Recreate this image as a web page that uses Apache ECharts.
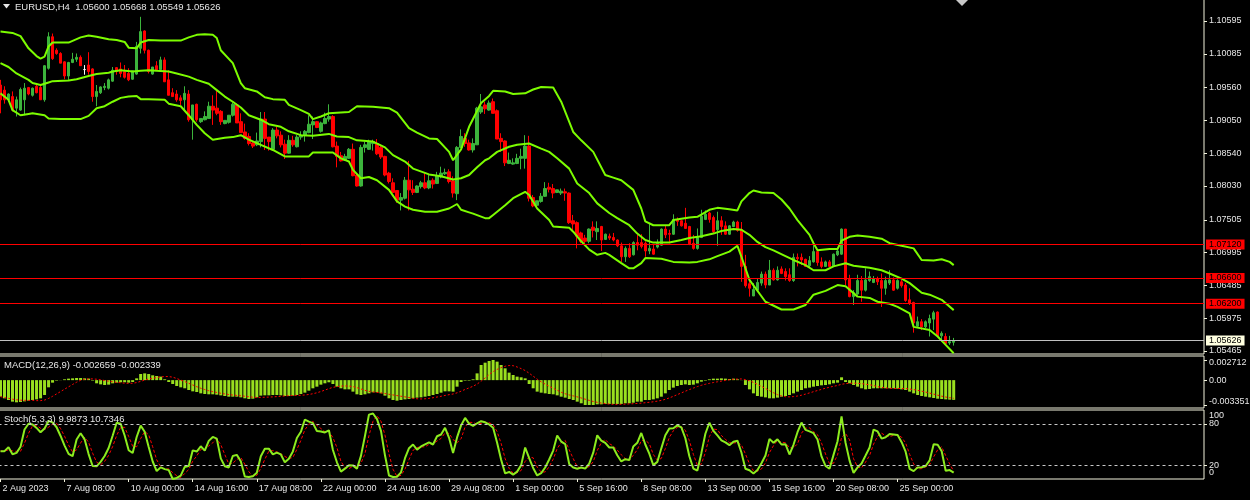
<!DOCTYPE html>
<html><head><meta charset="utf-8">
<script src="https://cdn.jsdelivr.net/npm/echarts@6/dist/echarts.min.js"></script>
<style>html,body{margin:0;padding:0;background:#000;overflow:hidden}#c{width:1250px;height:500px}</style>
</head><body><div id="c"></div>
<script>
const opens=[1.0960,1.0952,1.0937,1.0942,1.0924,1.0921,1.0937,1.0956,1.0944,1.0958,
1.0956,1.0937,1.0986,1.1035,1.1014,1.1009,1.0996,1.0974,1.0995,1.1000,
1.1003,1.0984,1.0991,1.0985,1.0942,1.0948,1.0956,1.0955,1.0966,1.0987,
1.0985,1.0981,1.0978,1.0969,1.0977,1.1017,1.1044,1.1014,1.0977,1.0990,
1.0984,1.0999,1.0968,1.0948,1.0946,1.0940,1.0937,1.0946,1.0906,1.0930,
1.0903,1.0906,1.0908,1.0927,1.0924,1.0919,1.0900,1.0902,1.0913,1.0929,
1.0903,1.0887,1.0880,1.0870,1.0867,1.0872,1.0907,1.0879,1.0860,1.0890,
1.0882,1.0868,1.0854,1.0874,1.0864,1.0879,1.0882,1.0886,1.0898,1.0903,
1.0888,1.0900,1.0907,1.0911,1.0865,1.0850,1.0843,1.0846,1.0860,1.0820,
1.0803,1.0863,1.0860,1.0869,1.0869,1.0863,1.0849,1.0823,1.0808,1.0796,
1.0781,1.0784,1.0812,1.0798,1.0793,1.0802,1.0808,1.0800,1.0812,1.0807,
1.0817,1.0822,1.0825,1.0811,1.0791,1.0863,1.0877,1.0870,1.0859,1.0867,
1.0918,1.0929,1.0921,1.0934,1.0920,1.0877,1.0873,1.0838,1.0837,1.0838,
1.0846,1.0846,1.0865,1.0785,1.0773,1.0779,1.0787,1.0801,1.0799,1.0793,
1.0792,1.0794,1.0792,1.0749,1.0746,1.0730,1.0722,1.0717,1.0739,1.0732,
1.0740,1.0720,1.0725,1.0723,1.0719,1.0710,1.0693,1.0706,1.0696,1.0715,
1.0715,1.0714,1.0702,1.0705,1.0708,1.0711,1.0736,1.0729,1.0728,1.0751,
1.0749,1.0745,1.0740,1.0714,1.0706,1.0723,1.0751,1.0761,1.0754,1.0735,
1.0749,1.0741,1.0728,1.0740,1.0747,1.0735,1.0678,1.0651,1.0632,1.0641,
1.0652,1.0666,1.0649,1.0672,1.0657,1.0674,1.0670,1.0665,1.0656,1.0692,
1.0692,1.0689,1.0679,1.0685,1.0701,1.0685,1.0678,1.0685,1.0678,1.0696,
1.0697,1.0736,1.0658,1.0631,1.0635,1.0656,1.0641,1.0656,1.0653,1.0659,
1.0656,1.0644,1.0652,1.0657,1.0644,1.0654,1.0649,1.0626,1.0622,1.0585,
1.0592,1.0584,1.0590,1.0596,1.0607,1.0570,1.0569,1.0559,1.05600];
const highs=[1.0968,1.0958,1.0947,1.0950,1.0942,1.0956,1.0963,1.0957,1.0956,1.0962,
1.0960,1.0991,1.1042,1.1040,1.1017,1.1011,1.0997,1.0996,1.1010,1.1009,
1.1006,1.0991,1.1011,1.0986,1.0960,1.0958,1.0963,1.0970,1.0988,1.0988,
1.0995,1.0991,1.0986,1.0982,1.1027,1.1066,1.1045,1.1015,1.0988,1.0997,
1.1004,1.1003,1.0983,1.0955,1.0952,1.0944,1.0958,1.0952,1.0929,1.0931,
1.0908,1.0919,1.0934,1.0944,1.0952,1.0921,1.0905,1.0913,1.0933,1.0931,
1.0916,1.0900,1.0885,1.0872,1.0886,1.0918,1.0918,1.0879,1.0893,1.0895,
1.0888,1.0875,1.0882,1.0881,1.0882,1.0888,1.0890,1.0913,1.0911,1.0904,
1.0903,1.0917,1.0930,1.0913,1.0872,1.0856,1.0853,1.0862,1.0869,1.0823,
1.0867,1.0872,1.0875,1.0875,1.0876,1.0867,1.0850,1.0825,1.0815,1.0796,
1.0792,1.0817,1.0842,1.0812,1.0804,1.0811,1.0823,1.0820,1.0815,1.0825,
1.0833,1.0830,1.0829,1.0818,1.0865,1.0891,1.0885,1.0875,1.0877,1.0926,
1.0946,1.0934,1.0936,1.0939,1.0922,1.0885,1.0874,1.0855,1.0846,1.0853,
1.0861,1.0882,1.0881,1.0789,1.0780,1.0792,1.0809,1.0808,1.0806,1.0797,
1.0799,1.0799,1.0793,1.0758,1.0748,1.0732,1.0727,1.0737,1.0748,1.0748,
1.0741,1.0729,1.0729,1.0730,1.0720,1.0715,1.0709,1.0714,1.0717,1.0727,
1.0728,1.0717,1.0744,1.0712,1.0720,1.0737,1.0742,1.0735,1.0759,1.0754,
1.0750,1.0769,1.0741,1.0727,1.0737,1.0766,1.0765,1.0763,1.0757,1.0763,
1.0756,1.0748,1.0742,1.0749,1.0749,1.0747,1.0696,1.0657,1.0652,1.0659,
1.0670,1.0670,1.0688,1.0675,1.0678,1.0678,1.0675,1.0675,1.0698,1.0698,
1.0698,1.0690,1.0694,1.0711,1.0703,1.0692,1.0687,1.0688,1.0698,1.0706,
1.0737,1.0736,1.0665,1.0641,1.0665,1.0663,1.0675,1.0670,1.0663,1.0662,
1.0667,1.0662,1.0672,1.0661,1.0658,1.0657,1.0652,1.0644,1.0623,1.0600,
1.0596,1.0594,1.0603,1.0609,1.0608,1.0577,1.0574,1.0570,1.05668];
const lows=[1.0916,1.0931,1.0934,1.0919,1.0911,1.0920,1.0913,1.0944,1.0942,1.0947,
1.0937,1.0934,1.0984,1.0999,1.1007,1.0994,1.0969,1.0968,1.0994,1.0996,
1.0990,1.0976,1.0976,1.0934,1.0927,1.0946,1.0952,1.0953,1.0965,1.0976,
1.0972,1.0970,1.0966,1.0968,1.0976,1.1009,1.1009,1.0978,1.0976,1.0982,
1.0983,1.0965,1.0944,1.0942,1.0934,1.0929,1.0921,1.0903,1.0875,1.0903,
1.0901,1.0905,1.0908,1.0898,1.0913,1.0898,1.0899,1.0900,1.0911,1.0901,
1.0886,1.0875,1.0866,1.0862,1.0865,1.0863,1.0859,1.0858,1.0859,1.0877,
1.0863,1.0845,1.0853,1.0864,1.0863,1.0875,1.0872,1.0885,1.0876,1.0893,
1.0886,1.0899,1.0903,1.0863,1.0832,1.0841,1.0842,1.0845,1.0818,1.0802,
1.0802,1.0855,1.0859,1.0858,1.0851,1.0845,1.0818,1.0807,1.0792,1.0777,
1.0765,1.0782,1.0765,1.0789,1.0792,1.0799,1.0798,1.0798,1.0799,1.0806,
1.0815,1.0820,1.0807,1.0785,1.0781,1.0862,1.0864,1.0858,1.0855,1.0867,
1.0915,1.0915,1.0920,1.0916,1.0876,1.0856,1.0834,1.0837,1.0836,1.0837,
1.0829,1.0830,1.0779,1.0770,1.0772,1.0777,1.0786,1.0793,1.0784,1.0792,
1.0789,1.0780,1.0744,1.0732,1.0706,1.0714,1.0714,1.0714,1.0723,1.0719,
1.0702,1.0719,1.0719,1.0717,1.0708,1.0685,1.0685,1.0691,1.0695,1.0703,
1.0706,1.0693,1.0697,1.0696,1.0706,1.0710,1.0722,1.0714,1.0727,1.0741,
1.0740,1.0737,1.0711,1.0704,1.0704,1.0722,1.0750,1.0746,1.0729,1.0710,
1.0727,1.0727,1.0727,1.0739,1.0732,1.0654,1.0645,1.0631,1.0632,1.0640,
1.0648,1.0644,1.0649,1.0656,1.0656,1.0666,1.0656,1.0654,1.0654,1.0678,
1.0680,1.0677,1.0677,1.0684,1.0679,1.0675,1.0677,1.0677,1.0677,1.0694,
1.0696,1.0649,1.0630,1.0618,1.0634,1.0623,1.0639,1.0654,1.0652,1.0649,
1.0615,1.0634,1.0649,1.0640,1.0642,1.0645,1.0623,1.0618,1.0575,1.0584,
1.0579,1.0582,1.0569,1.0579,1.0568,1.0561,1.0556,1.0556,1.05549];
const closes=[1.0937,1.0937,1.0946,1.0921,1.0937,1.0953,1.0955,1.0946,1.0955,1.0948,
1.0937,1.0990,1.1035,1.1001,1.1009,1.0994,1.0974,1.0995,1.1000,1.1003,
1.0990,1.0984,1.0981,1.0942,1.0950,1.0957,1.0958,1.0968,1.0983,1.0981,
1.0978,1.0972,1.0968,1.0982,1.1020,1.1043,1.1014,1.0981,1.0988,1.0983,
1.0999,1.0965,1.0944,1.0942,1.0937,1.0936,1.0947,1.0906,1.0929,1.0906,
1.0908,1.0911,1.0927,1.0921,1.0916,1.0903,1.0905,1.0913,1.0930,1.0901,
1.0886,1.0877,1.0869,1.0865,1.0873,1.0907,1.0877,1.0872,1.0890,1.0881,
1.0867,1.0854,1.0874,1.0867,1.0879,1.0882,1.0888,1.0899,1.0903,1.0894,
1.0901,1.0908,1.0911,1.0864,1.0849,1.0842,1.0849,1.0860,1.0819,1.0803,
1.0863,1.0867,1.0872,1.0872,1.0853,1.0848,1.0820,1.0810,1.0793,1.0781,
1.0785,1.0812,1.0797,1.0793,1.0803,1.0808,1.0800,1.0811,1.0806,1.0819,
1.0823,1.0824,1.0810,1.0792,1.0863,1.0880,1.0869,1.0859,1.0869,1.0924,
1.0926,1.0923,1.0932,1.0916,1.0876,1.0872,1.0839,1.0843,1.0839,1.0846,
1.0849,1.0865,1.0784,1.0772,1.0780,1.0787,1.0799,1.0798,1.0792,1.0797,
1.0795,1.0792,1.0746,1.0744,1.0725,1.0717,1.0717,1.0736,1.0734,1.0737,
1.0719,1.0728,1.0722,1.0719,1.0710,1.0693,1.0706,1.0693,1.0715,1.0711,
1.0709,1.0702,1.0706,1.0697,1.0714,1.0736,1.0727,1.0728,1.0751,1.0748,
1.0741,1.0737,1.0713,1.0706,1.0723,1.0756,1.0759,1.0751,1.0732,1.0749,
1.0740,1.0728,1.0741,1.0747,1.0734,1.0678,1.0648,1.0644,1.0642,1.0653,
1.0666,1.0649,1.0672,1.0657,1.0672,1.0667,1.0662,1.0656,1.0692,1.0690,
1.0688,1.0678,1.0687,1.0701,1.0684,1.0678,1.0685,1.0678,1.0697,1.0702,
1.0736,1.0657,1.0631,1.0637,1.0656,1.0641,1.0657,1.0662,1.0659,1.0654,
1.0644,1.0656,1.0657,1.0641,1.0656,1.0648,1.0625,1.0621,1.0590,1.0592,
1.0584,1.0592,1.0597,1.0606,1.0570,1.0574,1.0558,1.0561,1.05626];
const macdMain=[-0.00223,-0.00245,-0.00268,-0.00290,-0.00299,-0.00295,-0.00286,-0.00277,-0.00268,-0.00259,
-0.00245,-0.00200,-0.00097,-0.00034,-0.00007,0.00002,0.00011,0.00020,0.00024,0.00029,
0.00029,0.00024,0.00020,-0.00007,-0.00043,-0.00057,-0.00066,-0.00061,-0.00043,-0.00034,
-0.00029,-0.00029,-0.00034,-0.00025,0.00024,0.00083,0.00091,0.00083,0.00065,0.00056,
0.00047,0.00011,-0.00025,-0.00052,-0.00079,-0.00097,-0.00110,-0.00133,-0.00151,-0.00160,
-0.00178,-0.00187,-0.00191,-0.00191,-0.00196,-0.00205,-0.00214,-0.00223,-0.00223,-0.00223,
-0.00232,-0.00245,-0.00254,-0.00250,-0.00232,-0.00209,-0.00205,-0.00205,-0.00200,-0.00200,
-0.00205,-0.00214,-0.00214,-0.00209,-0.00200,-0.00187,-0.00169,-0.00142,-0.00110,-0.00088,
-0.00061,-0.00043,-0.00029,-0.00052,-0.00088,-0.00110,-0.00124,-0.00124,-0.00155,-0.00191,
-0.00200,-0.00191,-0.00178,-0.00164,-0.00164,-0.00178,-0.00209,-0.00245,-0.00268,-0.00277,
-0.00268,-0.00259,-0.00254,-0.00245,-0.00236,-0.00232,-0.00223,-0.00214,-0.00200,-0.00187,
-0.00169,-0.00151,-0.00151,-0.00155,-0.00088,-0.00025,-0.00007,-0.00007,0.00011,0.00091,
0.00204,0.00235,0.00258,0.00271,0.00249,0.00204,0.00159,0.00101,0.00069,0.00047,
0.00038,0.00024,-0.00052,-0.00110,-0.00155,-0.00169,-0.00178,-0.00187,-0.00191,-0.00205,
-0.00223,-0.00236,-0.00254,-0.00268,-0.00290,-0.00312,-0.00335,-0.00335,-0.00335,-0.00326,
-0.00326,-0.00321,-0.00321,-0.00321,-0.00321,-0.00321,-0.00312,-0.00312,-0.00304,-0.00290,
-0.00290,-0.00268,-0.00268,-0.00259,-0.00245,-0.00223,-0.00178,-0.00133,-0.00101,-0.00079,
-0.00066,-0.00057,-0.00066,-0.00061,-0.00043,-0.00021,-0.00007,0.00011,0.00020,0.00020,
0.00024,0.00020,0.00015,0.00020,0.00011,0.00002,-0.00066,-0.00124,-0.00178,-0.00214,
-0.00223,-0.00232,-0.00245,-0.00245,-0.00236,-0.00223,-0.00214,-0.00200,-0.00178,-0.00155,
-0.00133,-0.00110,-0.00101,-0.00088,-0.00079,-0.00070,-0.00066,-0.00057,-0.00043,-0.00034,
0.00038,-0.00025,-0.00043,-0.00066,-0.00088,-0.00110,-0.00124,-0.00119,-0.00110,-0.00110,
-0.00110,-0.00110,-0.00110,-0.00110,-0.00115,-0.00124,-0.00133,-0.00155,-0.00178,-0.00200,
-0.00214,-0.00223,-0.00232,-0.00241,-0.00250,-0.00254,-0.00259,-0.00263,-0.002659];
const bbUpper=[[0,1.1043],[3,1.1041],[5,1.1036],[7,1.1017],[9,1.1005],[10,1.1001],[11,1.1004],[12,1.1020],[13,1.1026],[17,1.1026],[20,1.1034],[22,1.1037],[24,1.1035],[27,1.1031],[29,1.1030],[31,1.1027],[32,1.1018],[34,1.1017],[35,1.1026],[37,1.1030],[40,1.1029],[45,1.1029],[47,1.1034],[49,1.1038],[51,1.1039],[53,1.1038],[54,1.1033],[55,1.1014],[58,1.0994],[60,1.0963],[61,1.0955],[64,1.0950],[66,1.0941],[68,1.0938],[71,1.0937],[72,1.0929],[75,1.0921],[77,1.0915],[78,1.0907],[80,1.0911],[82,1.0916],[84,1.0917],[87,1.0918],[89,1.0927],[93,1.0926],[97,1.0924],[99,1.0917],[102,1.0893],[104,1.0886],[107,1.0877],[109,1.0876],[112,1.0856],[113,1.0843],[115,1.0860],[117,1.0895],[120,1.0932],[122,1.0943],[123,1.0951],[126,1.0950],[128,1.0946],[131,1.0947],[133,1.0953],[135,1.0957],[138,1.0956],[140,1.0934],[143,1.0887],[145,1.0874],[148,1.0856],[151,1.0820],[153,1.0816],[155,1.0812],[158,1.0797],[160,1.0768],[161,1.0748],[163,1.0742],[167,1.0742],[168,1.0750],[172,1.0754],[174,1.0755],[177,1.0766],[179,1.0769],[182,1.0767],[184,1.0765],[185,1.0779],[187,1.0792],[188,1.0796],[190,1.0793],[193,1.0792],[195,1.0782],[197,1.0768],[199,1.0750],[202,1.0727],[203,1.0714],[204,1.0703],[207,1.0705],[209,1.0705],[210,1.0718],[212,1.0724],[214,1.0726],[217,1.0724],[220,1.0721],[222,1.0714],[225,1.0710],[228,1.0706],[230,1.0688],[233,1.0687],[235,1.0689],[237,1.0685],[238,1.0680]];
const bbMiddle=[[0,1.0994],[2,1.0988],[4,1.0978],[7,1.0968],[8,1.0963],[10,1.0960],[12,1.0964],[13,1.0966],[17,1.0967],[19,1.0969],[22,1.0974],[24,1.0977],[27,1.0979],[28,1.0981],[30,1.0983],[33,1.0981],[35,1.0982],[37,1.0983],[39,1.0982],[42,1.0981],[44,1.0978],[47,1.0973],[49,1.0968],[52,1.0962],[54,1.0952],[56,1.0942],[58,1.0934],[60,1.0925],[62,1.0913],[65,1.0906],[67,1.0899],[70,1.0895],[72,1.0888],[75,1.0882],[78,1.0881],[82,1.0884],[84,1.0880],[87,1.0879],[89,1.0874],[93,1.0872],[96,1.0863],[98,1.0851],[101,1.0841],[103,1.0830],[107,1.0821],[110,1.0818],[113,1.0813],[115,1.0815],[117,1.0820],[119,1.0832],[121,1.0843],[122,1.0846],[124,1.0856],[127,1.0864],[129,1.0867],[132,1.0869],[135,1.0861],[137,1.0856],[139,1.0846],[142,1.0830],[144,1.0807],[147,1.0792],[149,1.0776],[152,1.0761],[154,1.0753],[157,1.0742],[159,1.0729],[161,1.0719],[163,1.0715],[167,1.0715],[170,1.0719],[172,1.0722],[175,1.0725],[178,1.0729],[180,1.0733],[183,1.0736],[185,1.0735],[187,1.0727],[189,1.0716],[191,1.0708],[193,1.0703],[196,1.0694],[198,1.0688],[201,1.0680],[203,1.0672],[206,1.0672],[208,1.0678],[211,1.0683],[213,1.0679],[217,1.0676],[220,1.0672],[222,1.0667],[225,1.0659],[227,1.0652],[230,1.0637],[232,1.0634],[235,1.0626],[238,1.0610]];
const bbLower=[[0,1.0947],[2,1.0937],[3,1.0921],[5,1.0913],[7,1.0915],[8,1.0916],[11,1.0913],[12,1.0908],[15,1.0907],[20,1.0907],[22,1.0912],[24,1.0924],[26,1.0927],[28,1.0934],[30,1.0940],[32,1.0942],[34,1.0943],[35,1.0938],[37,1.0938],[41,1.0937],[42,1.0931],[45,1.0927],[47,1.0913],[49,1.0898],[51,1.0885],[53,1.0875],[56,1.0878],[58,1.0879],[60,1.0882],[62,1.0875],[65,1.0867],[68,1.0859],[71,1.0849],[77,1.0849],[78,1.0855],[83,1.0855],[85,1.0846],[87,1.0841],[88,1.0828],[90,1.0815],[92,1.0817],[94,1.0812],[97,1.0797],[99,1.0779],[101,1.0771],[103,1.0766],[106,1.0763],[109,1.0763],[112,1.0768],[114,1.0775],[115,1.0766],[117,1.0762],[118,1.0760],[121,1.0753],[122,1.0753],[123,1.0758],[126,1.0773],[128,1.0784],[131,1.0794],[132,1.0789],[134,1.0768],[137,1.0750],[138,1.0740],[142,1.0738],[143,1.0732],[145,1.0717],[147,1.0704],[149,1.0696],[151,1.0699],[152,1.0696],[155,1.0683],[157,1.0675],[158,1.0675],[160,1.0683],[161,1.0691],[165,1.0690],[168,1.0685],[172,1.0684],[174,1.0685],[177,1.0689],[179,1.0694],[182,1.0701],[184,1.0710],[185,1.0693],[187,1.0657],[191,1.0623],[195,1.0611],[198,1.0611],[201,1.0618],[203,1.0634],[206,1.0640],[209,1.0649],[211,1.0647],[214,1.0631],[217,1.0629],[219,1.0623],[222,1.0620],[224,1.0615],[227,1.0605],[228,1.0584],[232,1.0579],[234,1.0569],[236,1.0556],[238,1.0543]];
const timeLabels=['2 Aug 2023','7 Aug 08:00','10 Aug 00:00','14 Aug 16:00','17 Aug 08:00','22 Aug 00:00','24 Aug 16:00','29 Aug 08:00','1 Sep 00:00','5 Sep 16:00','8 Sep 08:00','13 Sep 00:00','15 Sep 16:00','20 Sep 08:00','25 Sep 00:00'];
const priceTicks=[1.10595,1.10085,1.09560,1.09050,1.08540,1.08030,1.07505,1.06995,1.06485,1.05975,1.05465];
const levelLines=[1.07120,1.06600,1.06200];
const lastPrice=1.05626;
const macdTicks=[-0.003351,0,0.002712];
const stochLevelTicks=[20,80];
const stochEndTicks=[0,100];
const titleMain='EURUSD,H4  1.05600 1.05668 1.05549 1.05626';
const titleMacd='MACD(12,26,9) -0.002659 -0.002339';
const titleStoch='Stoch(5,3,3) 9.9873 10.7346';

const LABEL_STEP=16, SLOTS=301, N=closes.length;
const FONT='Liberation Sans';
const cats=Array.from({length:SLOTS},(_,i)=>String(i));
const showTick=(i)=>i%LABEL_STEP===0 && i/LABEL_STEP<timeLabels.length;

function sma(a,p){const r=[];for(let i=0;i<a.length;i++){let s=0,n=0;for(let j=Math.max(0,i-p+1);j<=i;j++){s+=a[j];n++;}r.push(s/n);}return r;}
function stoch(h,l,c,kp,slow,dp){
  const num=[],den=[],K=[];
  for(let i=0;i<c.length;i++){let hi=-Infinity,lo=Infinity;for(let j=Math.max(0,i-kp+1);j<=i;j++){hi=Math.max(hi,h[j]);lo=Math.min(lo,l[j]);}num.push(c[i]-lo);den.push(hi-lo);}
  for(let i=0;i<c.length;i++){let a=0,b=0;for(let j=Math.max(0,i-slow+1);j<=i;j++){a+=num[j];b+=den[j];}K.push(b>0?100*a/b:50);}
  return {K,D:sma(K,dp)};
}
const macdSignal=sma(macdMain,9);
const st=stoch(highs,lows,closes,5,3,3);
const ohlc=opens.map((o,i)=>[o,closes[i],lows[i],highs[i]]);

const BORDER='#f2f2dc', TXT='#e6e6e6', BAND='#7CFC00';
const grids=[
 {left:-1.5,width:1205.5,top:-1,height:355},
 {left:-1.5,width:1205.5,top:356,height:52},
 {left:-1.5,width:1205.5,top:410,height:69}
].map(g=>Object.assign(g,{show:true,borderColor:BORDER,borderWidth:1,backgroundColor:'transparent',containLabel:false,outerBoundsMode:'none'}));

function xAx(gi,show){
  return {type:'category',gridIndex:gi,data:cats,boundaryGap:true,
    axisLine:{show:false},splitLine:{show:false},
    axisTick:{show:show,alignWithLabel:true,interval:(i)=>showTick(i),length:3,lineStyle:{color:BORDER}},
    axisLabel:{show:show,interval:(i)=>showTick(i),formatter:(v,i)=>showTick(i)?timeLabels[i/LABEL_STEP]:'',
      color:TXT,fontSize:9,fontFamily:FONT,align:'left',margin:5,padding:[0,0,0,2],hideOverlap:false}};
}
function yAx(gi,min,max,ticks,fmt,rich,tickShow){
  return {type:'value',gridIndex:gi,position:'right',min:min,max:max,scale:true,
    axisLine:{show:false},splitLine:{show:false},
    axisTick:{show:tickShow!==false,customValues:ticks,length:3,lineStyle:{color:BORDER}},
    axisLabel:{show:true,customValues:ticks,formatter:fmt,color:TXT,fontSize:9,fontFamily:FONT,margin:5,hideOverlap:false,showMinLabel:true,showMaxLabel:true,rich:rich||{}}};
}
const richBase={color:TXT,fontSize:9,fontFamily:FONT};
const priceLines=levelLines.map(v=>({yAxis:v,lineStyle:{color:'#FF0000',width:1,type:'solid'},
   label:{show:true,position:'end',distance:2,formatter:()=>v.toFixed(5),color:'#000',backgroundColor:'#FF0000',padding:[1,3,0,3],fontSize:9,fontFamily:FONT}}))
 .concat([{yAxis:lastPrice,lineStyle:{color:'#c0c0c0',width:1,type:'solid'},
   label:{show:true,position:'end',distance:2,formatter:()=>lastPrice.toFixed(5),color:'#000',backgroundColor:'#FFFFE0',padding:[1,3,0,3],fontSize:9,fontFamily:FONT}}]);
const option={
 backgroundColor:'#000',animation:false,
 textStyle:{fontFamily:FONT},
 title:[
  {text:titleMain,left:15,top:2,padding:0,textStyle:{color:TXT,fontSize:9.5,fontWeight:'normal',fontFamily:FONT}},
  {text:titleMacd,left:4,top:360,padding:0,textStyle:{color:TXT,fontSize:9.5,fontWeight:'normal',fontFamily:FONT}},
  {text:titleStoch,left:4,top:414,padding:0,textStyle:{color:TXT,fontSize:9.5,fontWeight:'normal',fontFamily:FONT}}
 ],
 graphic:[
  {type:'polygon',shape:{points:[[3,4],[10,4],[6.5,8.5]]},style:{fill:'#e6e6e6'}},
  {type:'polygon',shape:{points:[[956,0],[968,0],[962,6]]},style:{fill:'#c8c8c8'}}
 ],
 grid:grids,
 xAxis:[xAx(0,false),xAx(1,false),xAx(2,true)],
 yAxis:[
  yAx(0,1.05418,1.10937,priceTicks,v=>v.toFixed(5)),
  yAx(1,-0.003755,0.003251,macdTicks,v=>v===0?'0.00':(v>0?'{t|'+v.toFixed(6)+'}':'{b|'+v.toFixed(6)+'}'),
     {t:Object.assign({padding:[5,0,0,0]},richBase),b:Object.assign({padding:[0,0,7,0]},richBase)}),
  yAx(2,0,100,stochLevelTicks,v=>String(v)),
  yAx(2,0,100,stochEndTicks,v=>v===100?'{t|100}':'{b|0}',
     {t:Object.assign({padding:[12,0,0,0]},richBase),b:Object.assign({padding:[0,0,12,0]},richBase)},false)
 ],
 series:[
  {type:'candlestick',xAxisIndex:0,yAxisIndex:0,data:ohlc,barWidth:3,
   itemStyle:{color:'#3CB43C',color0:'#FF0000',borderColor:'#3CB43C',borderColor0:'#FF0000',borderColorDoji:'#FFFFFF',borderWidth:1}},
  {type:'line',xAxisIndex:0,yAxisIndex:0,data:bbUpper,symbol:'none',lineStyle:{color:BAND,width:2},z:3,
   markLine:{silent:true,symbol:['none','none'],animation:false,precision:5,data:priceLines}},
  {type:'line',xAxisIndex:0,yAxisIndex:0,data:bbMiddle,symbol:'none',lineStyle:{color:BAND,width:2},z:3},
  {type:'line',xAxisIndex:0,yAxisIndex:0,data:bbLower,symbol:'none',lineStyle:{color:BAND,width:2},z:3},
  {type:'bar',xAxisIndex:1,yAxisIndex:1,data:macdMain,barWidth:3,itemStyle:{color:'#9ADF1F'}},
  {type:'line',xAxisIndex:1,yAxisIndex:1,data:macdSignal,symbol:'none',lineStyle:{color:'#FF0000',width:1,type:[2,2]},z:4},
  {type:'line',xAxisIndex:2,yAxisIndex:2,data:st.K,symbol:'none',lineStyle:{color:'#8CEB1E',width:2},z:4,
   markLine:{silent:true,symbol:['none','none'],animation:false,label:{show:false},
     data:stochLevelTicks.map(v=>({yAxis:v,lineStyle:{color:'#c8c8c8',width:1,type:[3,3]}}))}},
  {type:'line',xAxisIndex:2,yAxisIndex:2,data:st.D,symbol:'none',lineStyle:{color:'#FF0000',width:1,type:[3,2]},z:3}
 ]
};
const chart=echarts.init(document.getElementById('c'),null,{renderer:'canvas'});
chart.setOption(option);
</script></body></html>
